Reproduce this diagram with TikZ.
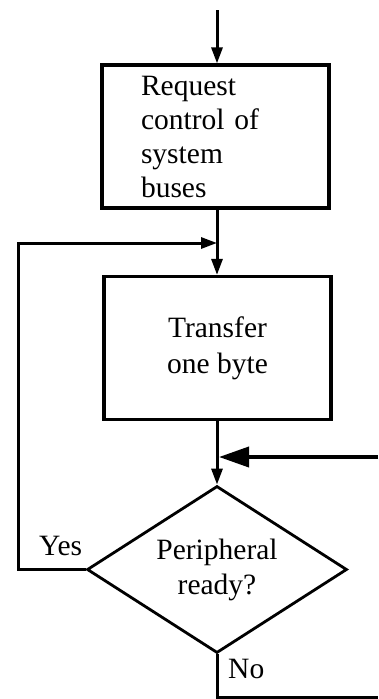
\documentclass[tikz,border=0pt]{standalone}
\usepackage{fontspec}
\setmainfont{Liberation Serif}
\usetikzlibrary{shapes.geometric,arrows.meta}
\tikzset{
  procbox/.style={draw, line width=3.2pt, rectangle, inner sep=0pt,
    minimum width=227pt, minimum height=143pt},
  decision/.style={draw, line width=2.8pt, diamond, inner sep=0pt, aspect=1.557,
    minimum width=260pt, minimum height=167pt, align=center},
  flow/.style={line width=3pt, -{Triangle[length=16pt,width=11pt]}},
  bigflow/.style={line width=3.8pt, -{Triangle[length=30pt,width=20pt]}},
  wire/.style={line width=3pt},
  lbl/.style={inner sep=0pt}
}
\begin{document}
\begin{tikzpicture}[x=1pt,y=-1pt,font=\fontsize{29.5}{34}\selectfont]
\useasboundingbox (0,0) rectangle (378,699);

% process steps
\node[procbox, text width=149pt, inner xsep=39pt, align=left] (req) at (215.5,136.5)
  {Request\\control of\\system\\buses};
\node[procbox, align=center, font=\fontsize{29.5}{36}\selectfont] (xfer) at (217.5,348)
  {Transfer\\one byte};
\node[decision] (dia) at (217,569.5) {Peripheral\\[1pt]ready?};

% branch labels
\node[lbl, anchor=base west] (yes) at (39,555) {Yes};
\node[lbl, anchor=base west] (no) at (228,678) {No};

% helper points
\coordinate (start) at (217,10);
\coordinate (merge) at (217,243);
\coordinate (loopl) at (18,243);
\coordinate (ext) at (378,457);
\coordinate (extend) at (219,457);
\coordinate (nocorner) at (217,697);
\coordinate (noend) at (378,697);

% connectors
\draw[flow] (start) -- (req.north -| start);
\draw[flow] (req.south -| start) -- (xfer.north -| start);
\draw[flow] (xfer.south -| start) -- (dia.north);
\draw[flow] (dia.west) -| (loopl) -- (merge);
\draw[bigflow] (ext) -- (extend);
\draw[wire] (dia.south) -- (nocorner) -- (noend);
\end{tikzpicture}
\end{document}
